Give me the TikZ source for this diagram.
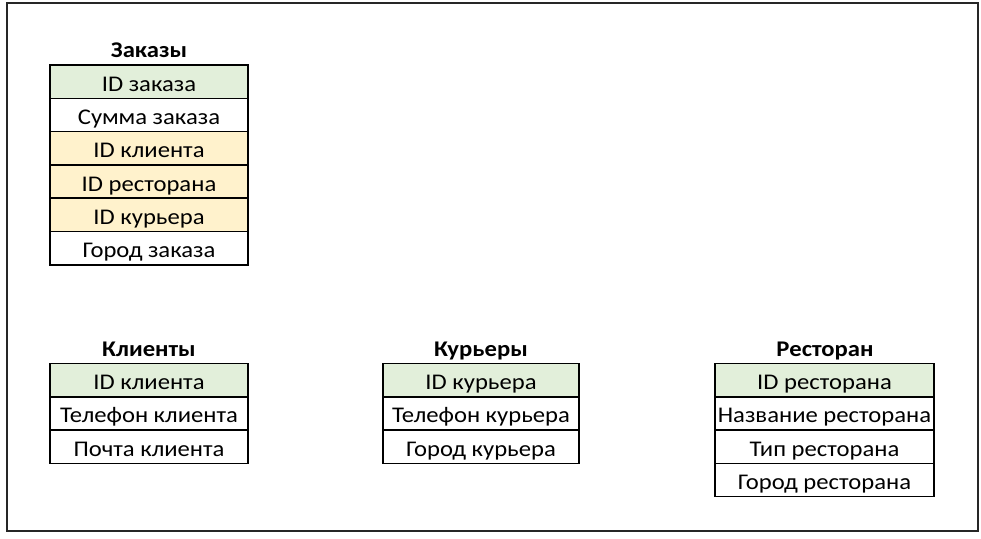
\documentclass[tikz,border=0pt]{standalone}
\usepackage{fontspec}
\setmainfont{Carlito}[FakeStretch=1.1]
\definecolor{pkgreen}{HTML}{E2EFDA}
\definecolor{fkyellow}{HTML}{FFF2CC}
\begin{document}
\begin{tikzpicture}[x=1bp,y=-1bp,
  cell/.style={draw=black, line width=1.5bp, minimum height=33.3bp, inner sep=0pt, outer sep=0pt,
    text height=19bp, text depth=0bp, anchor=north west, font=\fontsize{22.5}{27}\selectfont},
  ttl/.style={font=\fontsize{22.5}{27}\selectfont\bfseries, inner sep=0pt, anchor=base},
  pk/.style={fill=pkgreen},
  fk/.style={fill=fkyellow}]
\useasboundingbox (0,0) rectangle (981,539);
\draw[line width=1.5bp, black!85] (7,3) rectangle (978,531);
% Заказы
\node[ttl] (zt) at (149,58) {Заказы};
\node[cell,pk,minimum width=198bp] (z1) at (50,65) {ID заказа};
\node[cell,minimum width=198bp] (z2) at (z1.south west) {Сумма заказа};
\node[cell,fk,minimum width=198bp] (z3) at (z2.south west) {ID клиента};
\node[cell,fk,minimum width=198bp] (z4) at (z3.south west) {ID ресторана};
\node[cell,fk,minimum width=198bp] (z5) at (z4.south west) {ID курьера};
\node[cell,minimum width=198bp] (z6) at (z5.south west) {Город заказа};
% Клиенты
\node[ttl] (kt) at (149,357) {Клиенты};
\node[cell,pk,minimum width=198bp] (k1) at (50,363.5) {ID клиента};
\node[cell,minimum width=198bp] (k2) at (k1.south west) {Телефон клиента};
\node[cell,minimum width=198bp] (k3) at (k2.south west) {Почта клиента};
% Курьеры
\node[ttl] (ct) at (481,357) {Курьеры};
\node[cell,pk,minimum width=196bp] (c1) at (383,363.5) {ID курьера};
\node[cell,minimum width=196bp] (c2) at (c1.south west) {Телефон курьера};
\node[cell,minimum width=196bp] (c3) at (c2.south west) {Город курьера};
% Ресторан
\node[ttl] (rt) at (825,357) {Ресторан};
\node[cell,pk,minimum width=219bp] (r1) at (715,363.5) {ID ресторана};
\node[cell,minimum width=219bp] (r2) at (r1.south west) {Название ресторана};
\node[cell,minimum width=219bp] (r3) at (r2.south west) {Тип ресторана};
\node[cell,minimum width=219bp] (r4) at (r3.south west) {Город ресторана};
\end{tikzpicture}
\end{document}
